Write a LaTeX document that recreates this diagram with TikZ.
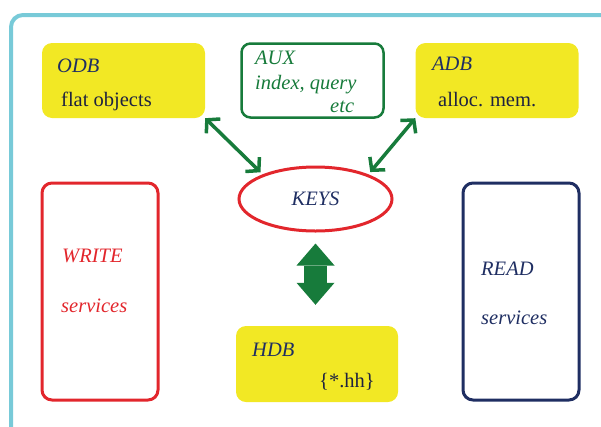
\documentclass[tikz,border=0pt]{standalone}
\usepackage{fontspec}
\setmainfont{Liberation Serif}
\usetikzlibrary{arrows.meta,positioning,calc,shapes.geometric}
\definecolor{dbyellow}{HTML}{F2E824}
\definecolor{linkgreen}{HTML}{177B3B}
\definecolor{writered}{HTML}{E2262C}
\definecolor{readnavy}{HTML}{1F2E62}
\definecolor{inkdark}{HTML}{1E2240}
\definecolor{framecyan}{HTML}{78CAD8}
\tikzset{
  dbbox/.style={fill=dbyellow, rounded corners=10pt, minimum width=163pt,
    minimum height=75pt, inner sep=0pt},
  auxbox/.style={draw=linkgreen, fill=white, line width=2.5pt, rounded corners=9pt,
    minimum width=142pt, minimum height=74pt, inner sep=0pt},
  svcbox/.style={rounded corners=10pt, line width=3pt, minimum width=116pt,
    minimum height=217pt, inner sep=0pt},
  keyring/.style={ellipse, draw=writered, line width=3pt, minimum width=153pt,
    minimum height=64pt, inner sep=0pt, text=readnavy,
    font=\fontsize{20.5}{24}\selectfont\itshape},
  txt/.style={anchor=base west, inner sep=0pt, font=\fontsize{20.5}{24}\selectfont},
  itxt/.style={txt, font=\fontsize{20.5}{24}\selectfont\itshape},
  % thin two-way links to the keys
  link/.style={linkgreen, line width=3.5pt,
    {Straight Barb[length=9pt,width=20pt]}-{Straight Barb[length=9pt,width=20pt]}},
  % the fat one down to HDB
  bigflow/.style={linkgreen, line width=23pt,
    {Triangle[length=22pt,width=38pt,line width=0pt]}-{Triangle[length=22pt,width=38pt,line width=0pt]}},
}

\begin{document}
\begin{tikzpicture}[x=1pt,y=-1pt]
  \useasboundingbox (0,0) rectangle (601,426);
  \draw[framecyan, line width=4pt, rounded corners=12pt] (11,15) rectangle (650,440);

  % stores
  \node[dbbox] (odb) at (123.5,80.5) {};
  \node[auxbox] (aux) at (312.5,80.5) {};
  \node[dbbox] (adb) at (497,80.5) {};
  \node[dbbox, minimum width=162pt, minimum height=76pt] (hdb) at (317,364) {};
  \node[keyring] (keys) at (315.5,199) {KEYS};

  % services
  \node[svcbox, draw=writered] (write) at (100,291.5) {};
  \node[svcbox, draw=readnavy] (read) at (521,291.5) {};

  % texts
  \node[itxt, text=readnavy] (odbname) at (57,72) {ODB};
  \node[txt, text=inkdark] (odbnote) at (61,106) {flat objects};
  \node[itxt, text=linkgreen] (auxname) at (255,64) {AUX};
  \node[itxt, text=linkgreen] (auxnote) at (255,89) {index, query};
  \node[itxt, text=linkgreen] (auxetc) at (330,112) {etc};
  \node[itxt, text=readnavy] (adbname) at (432,70) {ADB};
  \node[txt, text=inkdark] (adbnote) at (438,106) {alloc. mem.};
  \node[itxt, text=readnavy] (hdbname) at (252,356) {HDB};
  \node[txt, text=inkdark] (hdbnote) at (319,387) {\{*.hh\}};
  \node[itxt, text=writered] (writename) at (62,262) {WRITE};
  \node[itxt, text=writered] (writenote) at (61,312) {services};
  \node[itxt, text=readnavy] (readname) at (481,275) {READ};
  \node[itxt, text=readnavy] (readnote) at (481,324) {services};

  % links
  \draw[link, shorten >=3pt] (odb.south east) -- (keys.155);
  \draw[link, shorten >=3pt] (adb.south west) -- (keys.25);
  \draw[bigflow] ([yshift=-11pt]keys.south) -- ([yshift=21pt]keys.south |- hdb.north);
\end{tikzpicture}
\end{document}
